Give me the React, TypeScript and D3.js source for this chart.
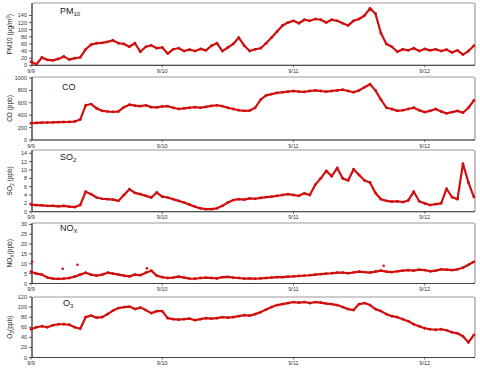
import React from "react";
import * as d3 from "d3";

const dayLabels = ["9/9", "9/10", "9/11", "9/12"];
const dayHours = [0, 24, 48, 72];

const pm10 = [10, 3, 22, 15, 14, 18, 25, 16, 20, 22, 45, 58, 62, 63, 66, 70, 62, 60, 52, 62, 38, 52, 56, 48,
  50, 33, 45, 48, 40, 44, 40, 46, 42, 55, 62, 40, 50, 60, 78, 55, 40, 45, 48, 62, 78, 95, 112, 120,
  125, 118, 128, 125, 130, 128, 120, 128, 125, 118, 112, 125, 130, 140, 160, 145, 90, 60, 52, 38, 45, 42, 48, 40,
  46, 42, 45, 40, 44, 36, 42, 30, 40, 55];
const co = [270, 275, 280, 282, 285, 288, 290, 292, 298, 330, 560, 580, 510, 470, 460, 455, 460, 530, 570, 555, 545, 560, 530, 525,
  540, 545, 520, 500, 510, 520, 530, 520, 535, 550, 560, 545, 520, 500, 480, 470, 475, 520, 650, 720, 740, 760, 770, 780,
  790, 780, 775, 790, 800, 790, 780, 790, 800, 810, 790, 770, 800, 850, 900, 800, 650, 520, 500, 470, 480, 500, 520, 480,
  450, 470, 500, 460, 430, 450, 470, 440, 520, 640];
const so2 = [1.7, 1.6, 1.5, 1.4, 1.4, 1.3, 1.4, 1.2, 1.1, 1.6, 4.8, 4.2, 3.4, 3.1, 3.0, 2.9, 2.6, 4.0, 5.4, 4.5, 4.2, 3.8, 3.4, 4.6,
  3.6, 3.4, 3.0, 2.6, 2.2, 1.7, 1.2, 0.8, 0.6, 0.6, 0.8, 1.4, 2.2, 2.8, 3.0, 2.9, 3.2, 3.1, 3.3, 3.5, 3.6, 3.8, 4.0, 4.2,
  4.0, 3.8, 4.4, 4.0, 6.5, 8.0, 9.8, 8.5, 10.5, 8.0, 7.5, 10.2, 8.8, 7.5, 7.0, 4.5, 3.0, 2.6, 2.4, 2.5, 2.3, 2.7, 4.8, 2.5,
  2.0, 1.6, 1.8, 2.0, 5.5, 3.5, 3.0, 11.5, 7.0, 3.5];
const nox = [6, 5, 4.5, 3, 2.5, 2.3, 2.5, 2.8, 3.5, 4.5, 5.5, 4.5, 4.0, 4.5, 5.5, 5.0, 4.5, 4.0, 3.6, 4.5, 4.2, 5.5, 6.5, 4.0,
  3.2, 2.8, 3.0, 3.5, 3.0, 2.5, 2.4, 2.8, 3.0, 2.8, 2.6, 3.2, 3.4, 3.0, 2.8, 2.5, 2.6, 2.4, 2.6, 2.8, 3.0, 3.2, 3.2, 3.5,
  3.6, 3.8, 4.0, 4.2, 4.5, 4.8, 5.0, 5.2, 5.5, 5.5, 5.2, 5.6, 6.0, 5.8, 5.5, 6.0, 6.5, 6.0, 5.8, 6.2, 6.5, 6.8, 6.5, 7.0,
  6.8, 6.2, 6.5, 7.2, 7.0, 6.8, 7.2, 8.0, 9.5, 11.0];
const noxSpikeHours = [0.2, 5.8, 8.5, 21.2, 64.5];
const noxSpikeValues = [11, 7.5, 9.5, 7.7, 9];
const o3 = [56, 60, 62, 60, 64, 66, 66, 65, 60, 57, 80, 83, 79, 80, 86, 93, 98, 100, 101, 96, 99, 94, 88, 92,
  92, 78, 76, 75, 76, 77, 74, 76, 78, 77, 78, 80, 79, 80, 82, 84, 83, 86, 90, 95, 100, 104, 106, 108,
  110, 109, 110, 108, 110, 109, 107, 106, 104, 100, 96, 94, 106, 108, 104, 96, 92, 86, 82, 80, 76, 72, 66, 62,
  58, 56, 55, 56, 54, 50, 48, 42, 30, 45];

const pmTicks = [0, 20, 40, 60, 80, 100, 120, 140];
const coTicks = [0, 200, 400, 600, 800, 1000];
const so2Ticks = [0, 2, 4, 6, 8, 10, 12, 14];
const noxTicks = [0, 5, 10, 15, 20, 25, 30];
const o3Ticks = [0, 20, 40, 60, 80, 100, 120];

const RED = "#d10f0f";
const X0 = 32;
const X1 = 475;

type Panel = {
  values: number[];
  ticks: number[];
  top: number;
  bottom: number;
  max: number;
  name: React.ReactNode;
  nameX: number;
  nameY: number;
  ytitle: React.ReactNode;
  extraH?: number[];
  extraV?: number[];
};

export default function App() {
  const x = d3.scaleLinear().domain([0, 81.2]).range([31, X1]);
  const panels: Panel[] = [
    {
      values: pm10, ticks: pmTicks, top: 3, bottom: 65.3, max: 175,
      name: <>PM<tspan fontSize={6} dy={2}>10</tspan></>, nameX: 60, nameY: 14,
      ytitle: <>PM10 (μg/m<tspan fontSize={4.5} dy={-2}>3</tspan><tspan dy={2}>)</tspan></>,
    },
    {
      values: co, ticks: coTicks, top: 77, bottom: 140, max: 1016,
      name: <>CO</>, nameX: 62, nameY: 90,
      ytitle: <>CO (ppb)</>,
    },
    {
      values: so2, ticks: so2Ticks, top: 150, bottom: 211.7, max: 14.8,
      name: <>SO<tspan fontSize={6} dy={2}>2</tspan></>, nameX: 60, nameY: 160,
      ytitle: <>SO<tspan fontSize={5} dy={1.5}>2</tspan><tspan dy={-1.5}> (ppb)</tspan></>,
    },
    {
      values: nox, ticks: noxTicks, top: 223, bottom: 283.5, max: 30.7,
      name: <>NO<tspan fontSize={6} dy={2}>X</tspan></>, nameX: 60, nameY: 231,
      ytitle: <>NO<tspan fontSize={5} dy={1.5}>X</tspan><tspan dy={-1.5}>(ppb)</tspan></>,
      extraH: noxSpikeHours, extraV: noxSpikeValues,
    },
    {
      values: o3, ticks: o3Ticks, top: 297, bottom: 357.5, max: 120,
      name: <>O<tspan fontSize={6} dy={2}>3</tspan></>, nameX: 63, nameY: 306,
      ytitle: <>O<tspan fontSize={5} dy={1.5}>3</tspan><tspan dy={-1.5}>(ppb)</tspan></>,
    },
  ];

  return (
    <svg width={480} height={369} style={{ position: "absolute", left: 0, top: 0, background: "#fff" }}
      fontFamily="Liberation Sans, Arial, sans-serif">
      {panels.map((p, i) => {
        const y = d3.scaleLinear().domain([0, p.max]).range([p.bottom, p.top]);
        const line = d3.line<number>().x((_, k) => x(k)).y((v) => y(v));
        const d = line(p.values) || "";
        const mid = (p.top + p.bottom) / 2;
        return (
          <g key={i}>
            <rect x={X0} y={p.top} width={X1 - X0} height={p.bottom - p.top} fill="none" stroke="#9a9a9a" strokeWidth={1.2} rx={2} />
            <line x1={X0} x2={X0} y1={p.top} y2={p.bottom} stroke="#333" strokeWidth={1} />
            <line x1={X0} x2={X1} y1={p.bottom} y2={p.bottom} stroke="#444" strokeWidth={1} />
            {p.ticks.map((t) => (
              <g key={t}>
                <line x1={X0 - 3} x2={X0} y1={y(t)} y2={y(t)} stroke="#333" strokeWidth={0.8} />
                <text x={X0 - 5} y={y(t) + 2} fontSize={5.5} textAnchor="end" fill="#333">{t}</text>
              </g>
            ))}
            {dayHours.map((h, k) => (
              <g key={h}>
                <line x1={x(h)} x2={x(h)} y1={p.bottom} y2={p.bottom + 2} stroke="#444" strokeWidth={0.8} />
                <text x={x(h)} y={p.bottom + 7.5} fontSize={5.5} textAnchor="middle" fill="#333">{dayLabels[k]}</text>
              </g>
            ))}
            <path d={d} fill="none" stroke={RED} strokeWidth={2.2} strokeLinejoin="round" />
            {p.values.map((v, k) => (
              <circle key={k} cx={x(k)} cy={y(v)} r={1.4} fill={RED} />
            ))}
            {p.extraH && p.extraV && p.extraH.map((h, k) => (
              <circle key={"e" + k} cx={x(h)} cy={y(p.extraV![k])} r={1.3} fill={RED} />
            ))}
            <text x={p.nameX} y={p.nameY} fontSize={9} fill="#222">{p.name}</text>
            <text transform={`translate(12,${mid}) rotate(-90)`} fontSize={6.5} textAnchor="middle" fill="#222">{p.ytitle}</text>
          </g>
        );
      })}
    </svg>
  );
}
